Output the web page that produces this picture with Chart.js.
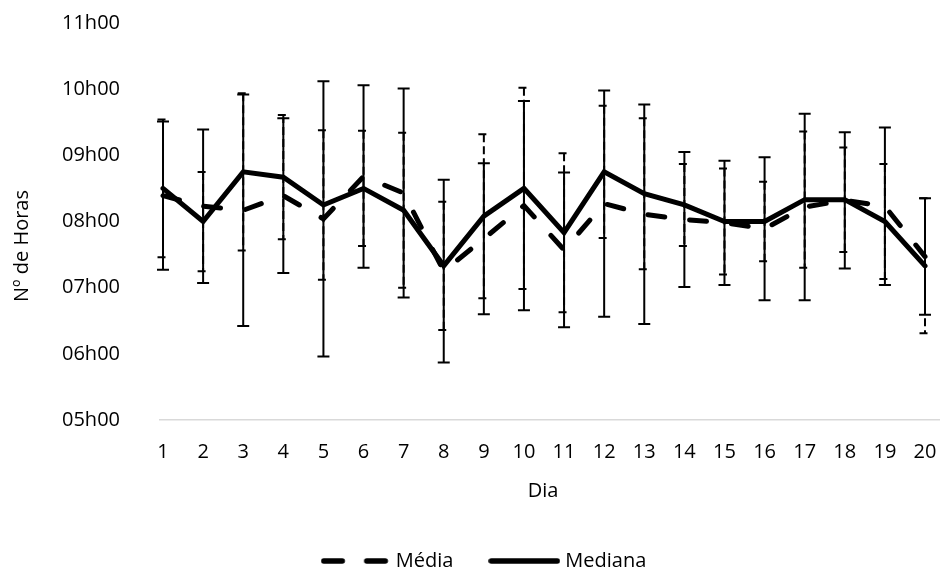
<!DOCTYPE html>
<html>
<head>
<meta charset="utf-8">
<script src="https://cdn.jsdelivr.net/npm/chart.js@4/dist/chart.umd.min.js"></script>
<style>
  html, body { margin: 0; padding: 0; background: #fff; }
  #wrap { width: 940px; height: 571px; }
</style>
</head>
<body>
<div id="wrap"><canvas id="grafico"></canvas></div>
<script>
// dados (horas em decimal)
const dias = [1, 2, 3, 4, 5, 6, 7, 8, 9, 10, 11, 12, 13, 14, 15, 16, 17, 18, 19, 20];
const media = [8.39, 8.23, 8.17, 8.39, 8.04, 8.68, 8.43, 7.25, 7.74, 8.24, 7.57, 8.27, 8.11, 8.03, 7.98, 7.89, 8.22, 8.32, 8.23, 7.47];
const mediaErro = [1.12, 1.16, 1.75, 1.17, 2.08, 1.38, 1.58, 1.38, 1.14, 1.58, 1.17, 1.71, 1.66, 1.02, 0.94, 1.08, 1.41, 1.03, 1.19, 0.88];
const mediana = [8.5, 8.0, 8.75, 8.67, 8.25, 8.5, 8.17, 7.33, 8.08, 8.5, 7.83, 8.75, 8.42, 8.25, 8.0, 8.0, 8.33, 8.33, 8.0, 7.33];
const medianaErro = [1.04, 0.75, 1.19, 0.94, 1.13, 0.87, 1.17, 0.97, 1.24, 1.52, 1.2, 1.0, 1.14, 0.62, 0.8, 0.6, 1.03, 0.79, 0.87, 1.02];
const horasTicks = [5, 6, 7, 8, 9, 10, 11];
const horasLabels = ['05h00', '06h00', '07h00', '08h00', '09h00', '10h00', '11h00'];

const FONTE = "'Open Sans', sans-serif";
const COR_TEXTO = '#000';

// amostra de linha para a legenda (tracejada ou contínua)
function amostraLinha(largura, tracejado) {
  const c = document.createElement('canvas');
  c.width = largura;
  c.height = 8;
  const g = c.getContext('2d');
  g.strokeStyle = '#000';
  g.lineWidth = 5.5;
  g.lineCap = 'round';
  g.setLineDash(tracejado);
  g.beginPath();
  g.moveTo(3, 4);
  g.lineTo(largura - 3, 4);
  g.stroke();
  return c;
}

// barras de erro desenhadas com as escalas do gráfico
const barrasErro = {
  id: 'barrasErro',
  beforeDatasetsDraw(chart) {
    const { ctx, scales: { x, y } } = chart;
    chart.data.datasets.forEach(ds => {
      const e = ds.erro;
      if (!e) return;
      ctx.save();
      ctx.strokeStyle = '#000';
      ctx.lineWidth = 2;
      ctx.setLineDash(e.tracejado);
      ds.data.forEach((p, i) => {
        const px = x.getPixelForValue(p.x);
        const yTopo = y.getPixelForValue(p.y + e.valores[i]);
        const yBase = y.getPixelForValue(p.y - e.valores[i]);
        const cx = px + e.desvio;
        ctx.beginPath();
        ctx.moveTo(px, yTopo);
        ctx.lineTo(px, yBase);
        ctx.moveTo(cx - e.tampa / 2, yTopo);
        ctx.lineTo(cx + e.tampa / 2, yTopo);
        ctx.moveTo(cx - e.tampa / 2, yBase);
        ctx.lineTo(cx + e.tampa / 2, yBase);
        ctx.stroke();
      });
      ctx.restore();
    });
  }
};

// títulos dos eixos e ajuste da legenda
const titulosEixos = {
  id: 'titulosEixos',
  afterLayout(chart) {
    const lg = chart.legend;
    if (lg) {
      lg.left += 15; lg.right += 15;
      lg.top += 10; lg.bottom += 10;
    }
  },
  afterDraw(chart) {
    const ctx = chart.ctx;
    ctx.save();
    ctx.fillStyle = COR_TEXTO;
    ctx.font = `20px ${FONTE}`;
    ctx.textAlign = 'center';
    ctx.textBaseline = 'middle';
    ctx.fillText('Dia', 543, 491);
    ctx.translate(22, 246);
    ctx.rotate(-Math.PI / 2);
    ctx.fillText('Nº de Horas', 0, 0);
    ctx.restore();
  }
};

const ctx = document.getElementById('grafico');
new Chart(ctx, {
  type: 'line',
  data: {
    datasets: [
      {
        label: 'Média',
        data: media.map((v, i) => ({ x: dias[i], y: v })),
        borderColor: '#000',
        backgroundColor: '#000',
        borderWidth: 5,
        borderDash: [17, 25],
        borderCapStyle: 'round',
        pointRadius: 0,
        pointStyle: amostraLinha(68, [18.5, 24.5]),
        tension: 0,
        erro: { valores: mediaErro, tracejado: [], tampa: 12, desvio: 0 }
      },
      {
        label: 'Mediana',
        data: mediana.map((v, i) => ({ x: dias[i], y: v })),
        borderColor: '#000',
        backgroundColor: '#000',
        borderWidth: 5,
        borderCapStyle: 'round',
        pointRadius: 0,
        pointStyle: amostraLinha(72, []),
        tension: 0,
        erro: { valores: medianaErro, tracejado: [8, 4], tampa: 8, desvio: -1.5 }
      }
    ]
  },
  options: {
    responsive: true,
    maintainAspectRatio: false,
    animation: false,
    layout: { padding: { top: 23, right: 0, left: 0, bottom: 0 } },
    scales: {
      x: {
        type: 'linear',
        min: 0.925,
        max: 20.374,
        afterBuildTicks: s => { s.ticks = dias.map(v => ({ value: v })); },
        afterFit: s => {
          s.height = 151 - (s.chart.legend ? s.chart.legend.height : 0);
          s.paddingLeft = 0;
          s.paddingRight = 0;
        },
        grid: { display: false, drawTicks: false },
        border: { display: true, color: '#d9d9d9', width: 1.5 },
        ticks: {
          padding: 20,
          maxRotation: 0,
          autoSkip: false,
          color: COR_TEXTO,
          font: { family: FONTE, size: 20 },
          callback: v => String(v)
        }
      },
      y: {
        min: 5,
        max: 11,
        afterBuildTicks: s => { s.ticks = horasTicks.map(v => ({ value: v })); },
        afterFit: s => {
          s.width = 160;
          s.paddingTop = 0;
          s.paddingBottom = 0;
        },
        grid: { display: false, drawTicks: false },
        border: { display: false },
        ticks: {
          padding: 40,
          color: COR_TEXTO,
          font: { family: FONTE, size: 20 },
          callback: v => horasLabels[horasTicks.indexOf(v)]
        }
      }
    },
    plugins: {
      legend: {
        position: 'bottom',
        labels: {
          usePointStyle: true,
          pointStyleWidth: 62,
          padding: 40,
          color: COR_TEXTO,
          font: { family: FONTE, size: 20 }
        }
      },
      tooltip: { enabled: false }
    }
  },
  plugins: [barrasErro, titulosEixos]
});
</script>
</body>
</html>
